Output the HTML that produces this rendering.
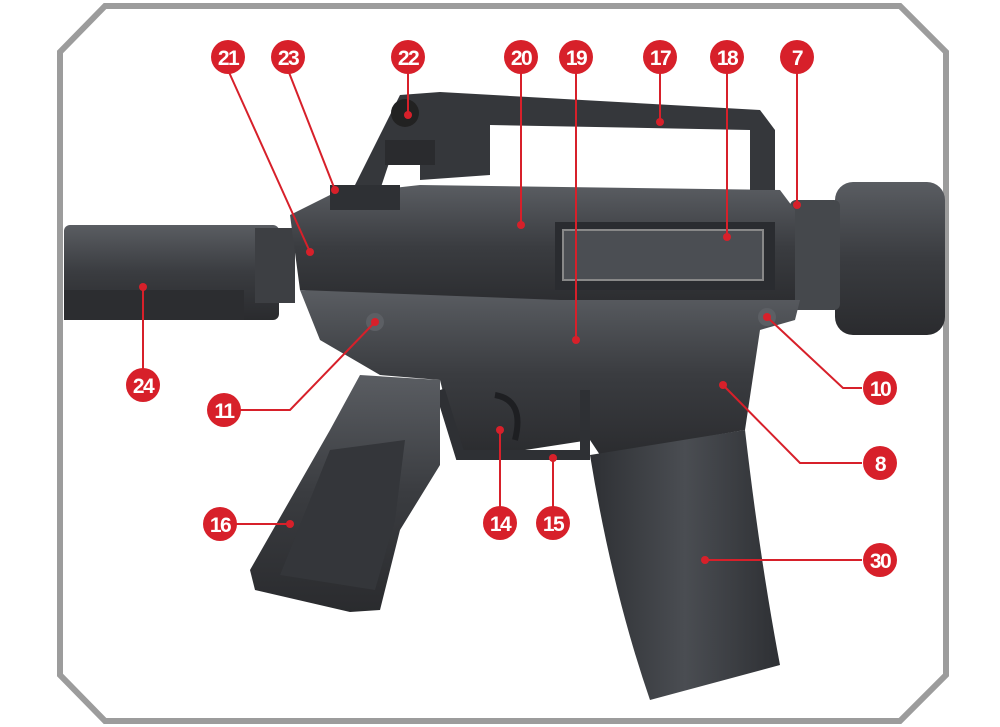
<!DOCTYPE html>
<html><head><meta charset="utf-8"><style>
html,body{margin:0;padding:0;background:#fff;width:1000px;height:727px;overflow:hidden}
text{font-family:"Liberation Sans",sans-serif;font-weight:bold;fill:#fff}
</style></head><body>
<svg width="1000" height="727" viewBox="0 0 1000 727" xmlns="http://www.w3.org/2000/svg">
<defs>
<linearGradient id="g1" x1="0" y1="0" x2="0" y2="1"><stop offset="0" stop-color="#5a5d62"/><stop offset="0.5" stop-color="#3a3c40"/><stop offset="1" stop-color="#2a2b2e"/></linearGradient>
<linearGradient id="g2" x1="0" y1="0" x2="1" y2="0"><stop offset="0" stop-color="#2e3034"/><stop offset="0.5" stop-color="#4a4d52"/><stop offset="1" stop-color="#2e3034"/></linearGradient>
</defs>
<polygon points="105,6 900,6 946,52 946,675 900,721 105,721 60,675 60,52" fill="#fff" stroke="#9c9c9c" stroke-width="6"/>
<rect x="64" y="225" width="215" height="95" rx="6" fill="url(#g1)"/>
<rect x="64" y="290" width="180" height="30" fill="#2c2d30"/>
<rect x="255" y="228" width="40" height="75" fill="#3d3f43"/>
<rect x="835" y="182" width="110" height="153" rx="18" fill="url(#g1)"/>
<rect x="790" y="200" width="50" height="110" rx="6" fill="#45484c"/>
<polygon points="290,215 330,195 420,185 780,190 795,210 795,300 560,300 540,310 300,290" fill="url(#g1)"/>
<polygon points="380,135 400,95 440,92 760,110 775,130 775,190 750,190 750,130 490,125 490,175 420,180 420,150 390,160 380,190 350,195" fill="#35373b"/>
<rect x="330" y="185" width="70" height="25" fill="#2e3034"/>
<circle cx="405" cy="113" r="14" fill="#222"/>
<rect x="385" y="140" width="50" height="25" fill="#2a2b2e"/>
<rect x="555" y="222" width="220" height="68" fill="#2a2c30"/>
<rect x="563" y="230" width="200" height="50" fill="#4b4e53" stroke="#888" stroke-width="2"/>
<polygon points="300,290 560,300 800,300 795,320 760,330 745,430 600,455 590,440 460,460 440,380 380,375 320,340" fill="url(#g1)"/>
<circle cx="375" cy="322" r="9" fill="#5c5f64"/>
<circle cx="767" cy="317" r="9" fill="#5c5f64"/>
<path d="M440,390 L460,455 L585,455 L585,390" fill="none" stroke="#2e3034" stroke-width="10"/>
<path d="M495,395 Q525,400 515,440" fill="none" stroke="#1e1f22" stroke-width="6"/>
<polygon points="360,375 440,380 440,465 400,530 380,610 350,612 255,590 250,570 330,430" fill="url(#g1)"/>
<polygon points="330,450 405,440 395,520 375,590 280,575" fill="#34363a"/>
<path d="M590,455 L745,430 Q760,560 780,665 L650,700 Q612,590 590,455 Z" fill="url(#g2)"/>
<g stroke="#d7202a" stroke-width="2" fill="none">
<line x1="228" y1="70" x2="310" y2="252"/>
<line x1="288" y1="70" x2="335" y2="190"/>
<line x1="408" y1="70" x2="408" y2="115"/>
<line x1="521" y1="70" x2="521" y2="225"/>
<line x1="576" y1="70" x2="576" y2="340"/>
<line x1="660" y1="70" x2="660" y2="122"/>
<line x1="727" y1="70" x2="727" y2="237"/>
<line x1="797" y1="70" x2="797" y2="205"/>
<line x1="143" y1="370" x2="143" y2="287"/>
<polyline points="238,410 290,410 375,322"/>
<polyline points="862,388 843,388 767,317"/>
<polyline points="862,463 800,463 723,385"/>
<line x1="235" y1="524" x2="290" y2="524"/>
<line x1="500" y1="510" x2="500" y2="430"/>
<line x1="553" y1="510" x2="553" y2="458"/>
<line x1="862" y1="560" x2="705" y2="560"/>
</g>
<g fill="#d7202a">
<circle cx="310" cy="252" r="4"/><circle cx="335" cy="190" r="4"/><circle cx="408" cy="115" r="4"/><circle cx="521" cy="225" r="4"/><circle cx="576" cy="340" r="4"/><circle cx="660" cy="122" r="4"/><circle cx="727" cy="237" r="4"/><circle cx="797" cy="205" r="4"/><circle cx="143" cy="287" r="4"/><circle cx="375" cy="322" r="4"/><circle cx="767" cy="317" r="4"/><circle cx="723" cy="385" r="4"/><circle cx="290" cy="524" r="4"/><circle cx="500" cy="430" r="4"/><circle cx="553" cy="458" r="4"/><circle cx="705" cy="560" r="4"/>
</g>
<g fill="#d7202a">
<circle cx="228" cy="57" r="17"/><circle cx="288" cy="57" r="17"/><circle cx="408" cy="57" r="17"/><circle cx="521" cy="57" r="17"/><circle cx="576" cy="57" r="17"/><circle cx="660" cy="57" r="17"/><circle cx="727" cy="57" r="17"/><circle cx="797" cy="57" r="17"/>
<circle cx="143" cy="385" r="17"/><circle cx="224" cy="410" r="17"/><circle cx="880" cy="388" r="17"/><circle cx="880" cy="463" r="17"/><circle cx="220" cy="524" r="17"/><circle cx="500" cy="523" r="17"/><circle cx="553" cy="523" r="17"/><circle cx="880" cy="560" r="17"/>
</g>
<g font-size="21" text-anchor="middle" letter-spacing="-1.5">
<text x="228" y="65">21</text><text x="288" y="65">23</text><text x="408" y="65">22</text><text x="521" y="65">20</text><text x="576" y="65">19</text><text x="660" y="65">17</text><text x="727" y="65">18</text><text x="797" y="65">7</text>
<text x="143" y="393">24</text><text x="224" y="418">11</text><text x="880" y="396">10</text><text x="880" y="471">8</text><text x="220" y="532">16</text><text x="500" y="531">14</text><text x="553" y="531">15</text><text x="880" y="568">30</text>
</g>
</svg>
</body></html>
